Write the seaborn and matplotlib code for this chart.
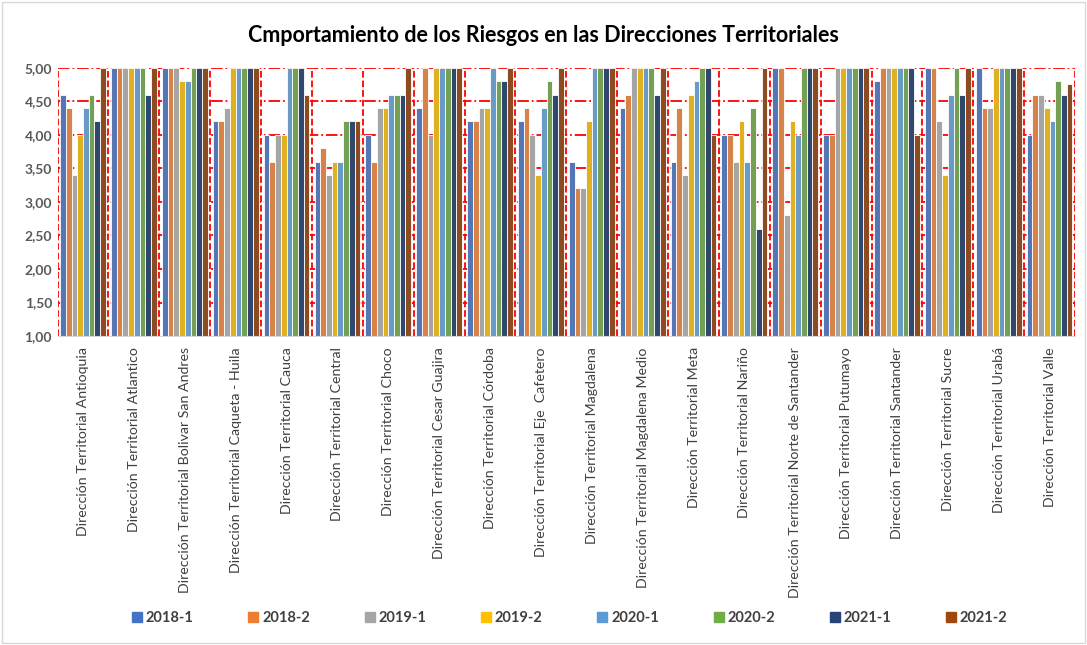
import pandas as pd
import seaborn as sns
import matplotlib.pyplot as plt
from matplotlib.ticker import FuncFormatter

direcciones = [
    "Dirección Territorial Antioquia", "Dirección Territorial Atlantico",
    "Dirección Territorial Bolivar San Andres", "Dirección Territorial Caqueta - Huila",
    "Dirección Territorial Cauca", "Dirección Territorial Central",
    "Dirección Territorial Choco", "Dirección Territorial Cesar Guajira",
    "Dirección Territorial Córdoba", "Dirección Territorial Eje  Cafetero",
    "Dirección Territorial Magdalena", "Dirección Territorial Magdalena Medio",
    "Dirección Territorial Meta", "Dirección Territorial Nariño",
    "Dirección Territorial Norte de Santander", "Dirección Territorial Putumayo",
    "Dirección Territorial Santander", "Dirección Territorial Sucre",
    "Dirección Territorial Urabá", "Dirección Territorial Valle",
]
periodos = ["2018-1", "2018-2", "2019-1", "2019-2", "2020-1", "2020-2", "2021-1", "2021-2"]

# one list per period, in the order of direcciones
p2018_1 = [4.6, 5.0, 5.0, 4.2, 4.0, 3.6, 4.0, 4.4, 4.2, 4.2, 3.6, 4.4, 3.6, 4.0, 5.0, 4.0, 4.8, 5.0, 5.0, 4.0]
p2018_2 = [4.4, 5.0, 5.0, 4.2, 3.6, 3.8, 3.6, 5.0, 4.2, 4.4, 3.2, 4.6, 4.4, 4.0, 5.0, 4.0, 5.0, 5.0, 4.4, 4.6]
p2019_1 = [3.4, 5.0, 5.0, 4.4, 4.0, 3.4, 4.4, 4.0, 4.4, 4.0, 3.2, 5.0, 3.4, 3.6, 2.8, 5.0, 5.0, 4.2, 4.4, 4.6]
p2019_2 = [4.0, 5.0, 4.8, 5.0, 4.0, 3.6, 4.4, 5.0, 4.4, 3.4, 4.2, 5.0, 4.6, 4.2, 4.2, 5.0, 5.0, 3.4, 5.0, 4.4]
p2020_1 = [4.4, 5.0, 4.8, 5.0, 5.0, 3.6, 4.6, 5.0, 5.0, 4.4, 5.0, 5.0, 4.8, 3.6, 4.0, 5.0, 5.0, 4.6, 5.0, 4.2]
p2020_2 = [4.6, 5.0, 5.0, 5.0, 5.0, 4.2, 4.6, 5.0, 4.8, 4.8, 5.0, 5.0, 5.0, 4.4, 5.0, 5.0, 5.0, 5.0, 5.0, 4.8]
p2021_1 = [4.2, 4.6, 5.0, 5.0, 5.0, 4.2, 4.6, 5.0, 4.8, 4.6, 5.0, 4.6, 5.0, 2.6, 5.0, 5.0, 5.0, 4.6, 5.0, 4.6]
p2021_2 = [5.0, 5.0, 5.0, 5.0, 4.6, 4.2, 5.0, 5.0, 5.0, 5.0, 5.0, 5.0, 4.0, 5.0, 5.0, 5.0, 4.0, 5.0, 5.0, 4.76]

series = [p2018_1, p2018_2, p2019_1, p2019_2, p2020_1, p2020_2, p2021_1, p2021_2]
colores = ["#4472C4", "#ED7D31", "#A5A5A5", "#FFC000", "#5B9BD5", "#70AD47", "#264478", "#9E480E"]

rows = []
for per, vals in zip(periodos, series):
    for d, v in zip(direcciones, vals):
        rows.append({"Direccion": d, "Periodo": per, "Valor": v})
df = pd.DataFrame(rows)

sns.set_style("white")
plt.rcParams['font.family'] = ['Lato', 'DejaVu Sans']

fig = plt.figure(figsize=(10.87, 6.45), dpi=100)
ax = fig.add_axes([0.053, 0.479, 0.936, 0.416])

sns.barplot(data=df, x="Direccion", y="Valor", hue="Periodo", palette=colores,
            order=direcciones, hue_order=periodos, width=0.9,
            edgecolor="white", linewidth=0.6, ax=ax, legend=True)

ax.set_ylim(1, 5)
ax.set_xlim(-0.5, len(direcciones) - 0.5)
ax.set_yticks([1, 1.5, 2, 2.5, 3, 3.5, 4, 4.5, 5])
ax.yaxis.set_major_formatter(FuncFormatter(lambda v, p: f"{v:.2f}".replace(".", ",")))
for lab in ax.get_yticklabels():
    lab.set_fontweight("bold")
ax.tick_params(axis="y", labelsize=10, colors="#595959", length=0, pad=4)
ax.tick_params(axis="x", labelsize=10.2, colors="#404040", length=0, pad=8)
plt.setp(ax.get_xticklabels(), rotation=90)
ax.set_xlabel("")
ax.set_ylabel("")

# red dash-dot grid
for yv in [1.5, 2, 2.5, 3, 3.5, 4, 4.5, 5]:
    ax.axhline(yv, color="red", linestyle="-.", linewidth=1.3, zorder=0)
for i in range(len(direcciones) + 1):
    ax.axvline(i - 0.5, color="red", linestyle="--", linewidth=1.3, zorder=0)

for s in ["top", "right", "left"]:
    ax.spines[s].set_visible(False)
ax.spines["bottom"].set_color("#D9D9D9")

ax.legend_.remove()
handles = [plt.Line2D([], [], marker="s", linestyle="", color=c, markersize=7) for c in colores]
leg = fig.legend(handles, periodos, loc="center", bbox_to_anchor=(0.523, 0.042), ncol=8,
                 frameon=False, handletextpad=0.1, handlelength=1.0, columnspacing=3.6,
                 prop={"weight": "bold", "size": 10.5})
for t in leg.get_texts():
    t.set_color("#404040")

fig.text(0.5, 0.945, "Cmportamiento de los Riesgos en las Direcciones Territoriales",
         ha="center", va="center", fontsize=15.5, fontweight="bold", color="black")

fig.patches.append(plt.Rectangle((0.002, 0.003), 0.996, 0.994, transform=fig.transFigure,
                                 fill=False, edgecolor="#D9D9D9", linewidth=1))

fig.savefig("out.png", dpi=100)
